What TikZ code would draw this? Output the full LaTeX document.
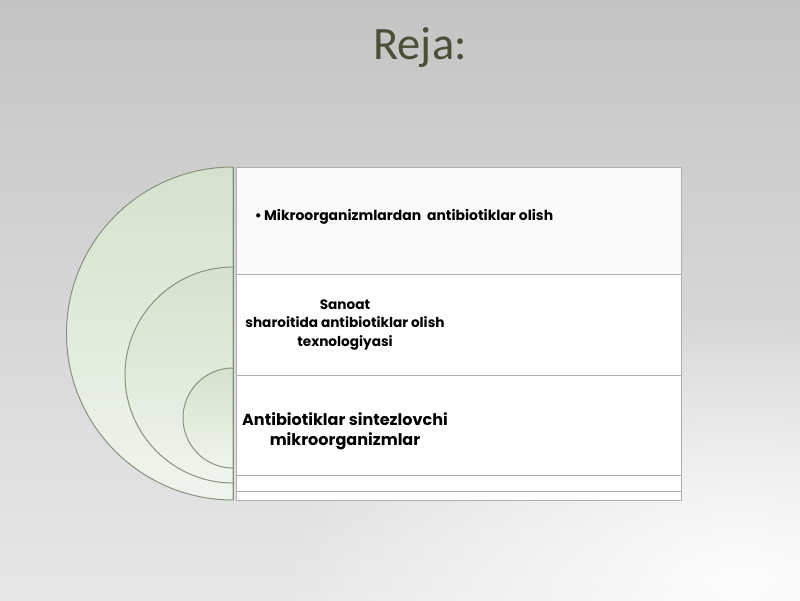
\documentclass[tikz,border=0pt]{standalone}
\usepackage{fontspec}
\setmainfont{Poppins}
\newfontfamily\titlefont{Carlito}
\usetikzlibrary{fadings}
\definecolor{bgtop}{RGB}{196,196,196}
\definecolor{bgbot}{RGB}{232,232,232}
\definecolor{discdark}{RGB}{213,226,204}
\definecolor{disclight}{RGB}{240,244,238}
\definecolor{discline}{RGB}{135,146,126}
\definecolor{rowline}{RGB}{175,175,175}
\definecolor{titlecol}{RGB}{76,78,54}
\tikzfading[name=glow, inner color=transparent!0, outer color=transparent!100]
\tikzset{
  disc/.style={draw=discline, line width=0.7pt, top color=discdark, bottom color=disclight},
  rowbox/.style={draw=rowline, fill=white, line width=0.5pt, anchor=north west, minimum width=11.125cm, inner sep=0pt},
  rowtext/.style={font=\bfseries, align=center, text=black, inner sep=0pt}
}
\begin{document}
\begin{tikzpicture}[x=0.025cm, y=-0.025cm]
      % background
      \useasboundingbox (0,0) rectangle (800,600);
      \shade [top color=bgtop, bottom color=bgbot] (0,0) rectangle (800,600);
      \fill [white, path fading=glow, opacity=0.9] (740,580) ellipse [x radius=460, y radius=260];
      % title
      \node [font=\titlefont\fontsize{33}{36}\selectfont, text=titlecol] (title) at (420,48) {Reja:};
      % half discs
      \draw [disc] (233,167) arc [start angle=270, end angle=90, radius=166.5] -- cycle;
      \draw [disc] (233,267) arc [start angle=270, end angle=90, radius=108] -- cycle;
      \draw [disc] (233,368) arc [start angle=270, end angle=90, radius=50] -- cycle;
      \draw [discline] (233,167) -- (233,500);
      % rows
      \node [rowbox, fill=gray!4, minimum height=2.675cm] (r1) at (236,167) {};
      \node [rowbox, minimum height=2.525cm] (r2) at (236,274) {};
      \node [rowbox, minimum height=2.5cm] (r3) at (236,375) {};
      \node [rowbox, minimum height=0.4cm] (r4) at (236,475) {};
      \node [rowbox, minimum height=0.225cm] (r5) at (236,491) {};
      \node [rowtext, font=\bfseries\fontsize{9.9}{12}\selectfont] (t1) at (404,217) {\textbullet\,Mikroorganizmlardan\ \ antibiotiklar olish};
      \node [rowtext, font=\bfseries\fontsize{9.7}{12.9}\selectfont] (t2) at (345,325) {Sanoat\\sharoitida antibiotiklar olish\\texnologiyasi};
      \node [rowtext, font=\bfseries\fontsize{11.4}{14.2}\selectfont] (t3) at (345,431) {Antibiotiklar sintezlovchi\\mikroorganizmlar};
    \end{tikzpicture}
\end{document}
